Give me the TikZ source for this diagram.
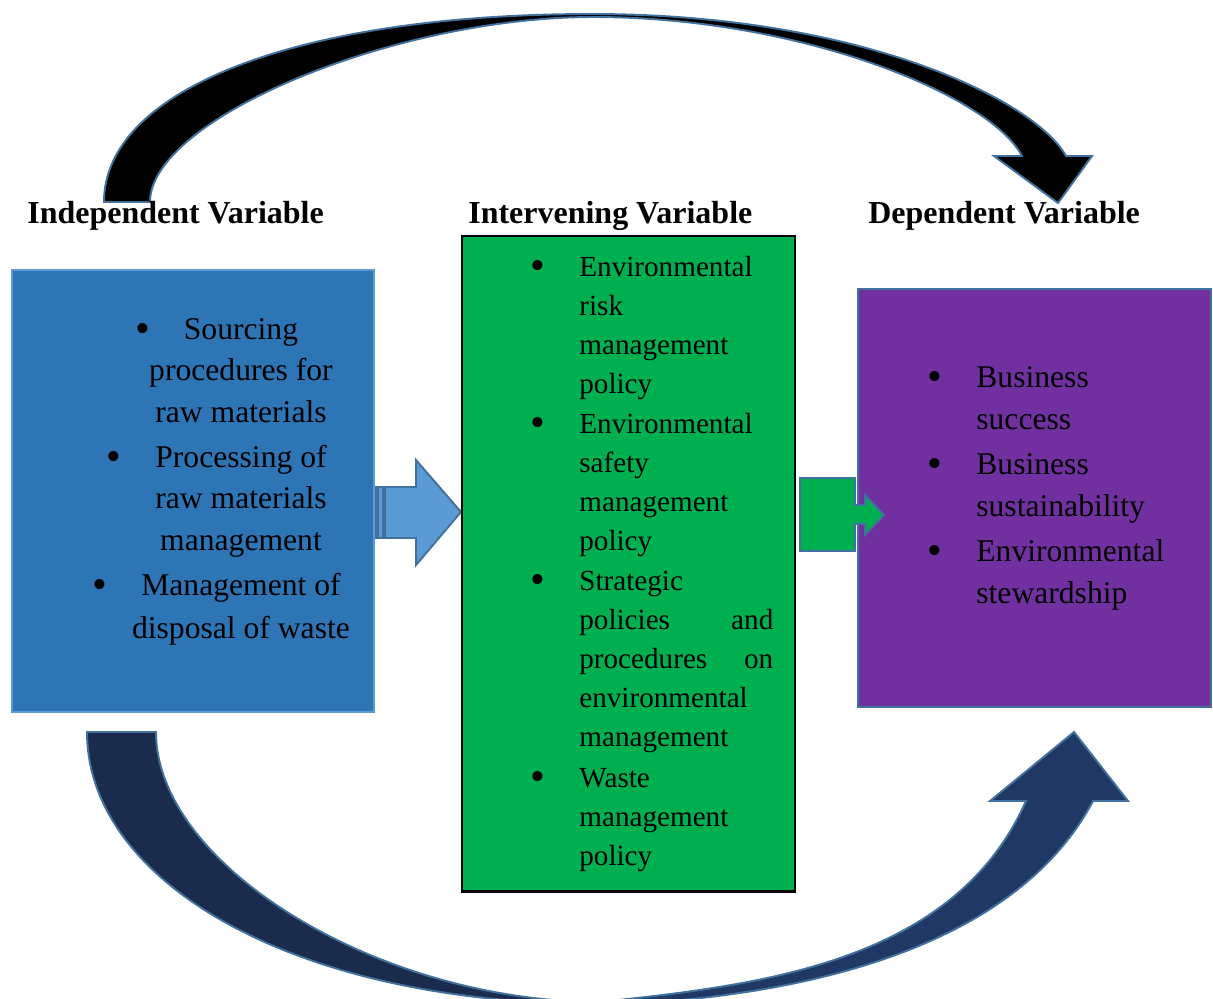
\documentclass[tikz,border=0pt]{standalone}
\usepackage{fontspec}
\setmainfont{Liberation Serif}
\definecolor{boxblue}{RGB}{46,117,182}
\definecolor{boxblueedge}{RGB}{91,155,213}
\definecolor{boxgreen}{RGB}{0,176,80}
\definecolor{boxpurple}{RGB}{112,48,160}
\definecolor{shapeedge}{RGB}{65,113,156}
\definecolor{arrowblue}{RGB}{91,155,213}
\definecolor{navyback}{RGB}{27,43,77}
\definecolor{navyfront}{RGB}{32,57,100}
\begin{document}
\begin{tikzpicture}[x=0.02cm, y=-0.02cm,
  edgeline/.style={draw=shapeedge, line width=1.1pt, line join=miter},
  panel/.style={inner sep=0pt, outer sep=0pt, anchor=north west},
  hdr/.style={font=\fontsize{18.2}{20}\selectfont\bfseries, anchor=base west, inner sep=0pt},
  bodytext/.style={font=\fontsize{18}{20}\selectfont, anchor=base, inner sep=0pt},
  greentext/.style={font=\fontsize{16.6}{18}\selectfont, anchor=base west, inner sep=0pt},
  bul/.style={font=\fontsize{24}{24}\selectfont, anchor=base, inner sep=0pt, yshift=-0.06cm},
]
\useasboundingbox (0,0) rectangle (1213,998);

% ---- curved arrow over the top (independent -> dependent)
\fill[black, edgeline]
  (104,202) .. controls (104,89) and (299,14) .. (592,14)
  .. controls (860,14) and (1035,100) .. (1066,156)
  -- (1092,156) -- (1058,203) -- (994,156) -- (1022,156)
  .. controls (990,95) and (800,17) .. (593,17)
  .. controls (394,17) and (150,119) .. (150,202) -- cycle;

% ---- curved arrow underneath: rear half, then front half with the head
\fill[navyback, edgeline]
  (87,732) .. controls (87,881) and (292,1004) .. (600,1004)
  -- (600,1002)
  .. controls (380,1002) and (156,866) .. (156,732) -- cycle;
\fill[navyfront, edgeline]
  (600,1005) .. controls (820,998) and (1019,941) .. (1093,801)
  -- (1128,801) -- (1074,732) -- (990,801) -- (1026,801)
  .. controls (954,963) and (760,985) .. (600,1002) -- cycle;

% ---- striped block arrow between the first two panels
\filldraw[fill=arrowblue, edgeline] (370,487) rectangle (376,538);
\filldraw[fill=arrowblue, edgeline] (378,487) rectangle (383,538);
\filldraw[fill=arrowblue, edgeline]
  (385,487) -- (416,487) -- (416,460) -- (461,512)
  -- (416,565) -- (416,538) -- (385,538) -- cycle;

% ---- the three panels
\node[panel, draw=boxblueedge, fill=boxblue, line width=1.2pt,
      minimum width=7.24cm, minimum height=8.84cm] (indep) at (12,270) {};
\node[panel, draw=black, fill=boxgreen, line width=1.6pt,
      minimum width=6.66cm, minimum height=13.12cm] (interv) at (462,236) {};
\node[panel, draw=shapeedge, fill=boxpurple, line width=1.1pt,
      minimum width=7.06cm, minimum height=8.36cm] (dep) at (858,289) {};

% ---- callout arrow from the middle panel into the right one
\filldraw[fill=boxgreen, edgeline]
  (800,478) -- (855,478) -- (855,505) -- (865,505) -- (865,495)
  -- (884,515) -- (865,535) -- (865,524) -- (855,524)
  -- (855,551) -- (800,551) -- cycle;

% ---- headings
\node[hdr] (h1) at (27,223) {Independent Variable};
\node[hdr] (h2) at (468,223) {Intervening Variable};
\node[hdr] (h3) at (868,223) {Dependent Variable};

% ---- independent variable list (centred lines)
\node[bodytext] (b1) at (241,339) {Sourcing};
\node[bul, xshift=-0.82cm] (bu1) at (b1.base west) {\textbullet};
\node[bodytext] (b2) at (241,380) {procedures for};
\node[bodytext] (b3) at (241,422) {raw materials};
\node[bodytext] (b4) at (241,467) {Processing of};
\node[bul, xshift=-0.82cm] (bu2) at (b4.base west) {\textbullet};
\node[bodytext] (b5) at (241,508) {raw materials};
\node[bodytext] (b6) at (241,550) {management};
\node[bodytext] (b7) at (241,595) {Management of};
\node[bul, xshift=-0.82cm] (bu3) at (b7.base west) {\textbullet};
\node[bodytext] (b8) at (241,638) {disposal of waste};

% ---- intervening variable list (justified, hanging indent)
\node[bul] (gu1) at (538,276.5) {\textbullet};
\node[greentext] (g1) at (579,276.5) {Environmental};
\node[greentext] (g2) at (579,315.5) {risk};
\node[greentext] (g3) at (579,354.5) {management};
\node[greentext] (g4) at (579,393.5) {policy};
\node[bul] (gu2) at (538,433.5) {\textbullet};
\node[greentext] (g5) at (579,433.5) {Environmental};
\node[greentext] (g6) at (579,472.5) {safety};
\node[greentext] (g7) at (579,511.5) {management};
\node[greentext] (g8) at (579,550.5) {policy};
\node[bul] (gu3) at (538,590.5) {\textbullet};
\node[greentext] (g9) at (579,590.5) {Strategic};
\node[greentext] (g10) at (579,629.5) {\makebox[3.88cm][s]{policies\hfill and}};
\node[greentext] (g11) at (579,668.5) {\makebox[3.88cm][s]{procedures\hfill on}};
\node[greentext] (g12) at (579,707.5) {environmental};
\node[greentext] (g13) at (579,746.5) {management};
\node[bul] (gu4) at (538,787.5) {\textbullet};
\node[greentext] (g14) at (579,787.5) {Waste};
\node[greentext] (g15) at (579,826.5) {management};
\node[greentext] (g16) at (579,865.5) {policy};

% ---- dependent variable list
\node[bul] (pu1) at (935,387) {\textbullet};
\node[bodytext, anchor=base west] (p1) at (976,387) {Business};
\node[bodytext, anchor=base west] (p2) at (976,429) {success};
\node[bul] (pu2) at (935,474) {\textbullet};
\node[bodytext, anchor=base west] (p3) at (976,474) {Business};
\node[bodytext, anchor=base west] (p4) at (976,516) {sustainability};
\node[bul] (pu3) at (935,561) {\textbullet};
\node[bodytext, anchor=base west] (p5) at (976,561) {Environmental};
\node[bodytext, anchor=base west] (p6) at (976,603) {stewardship};
\end{tikzpicture}
\end{document}
